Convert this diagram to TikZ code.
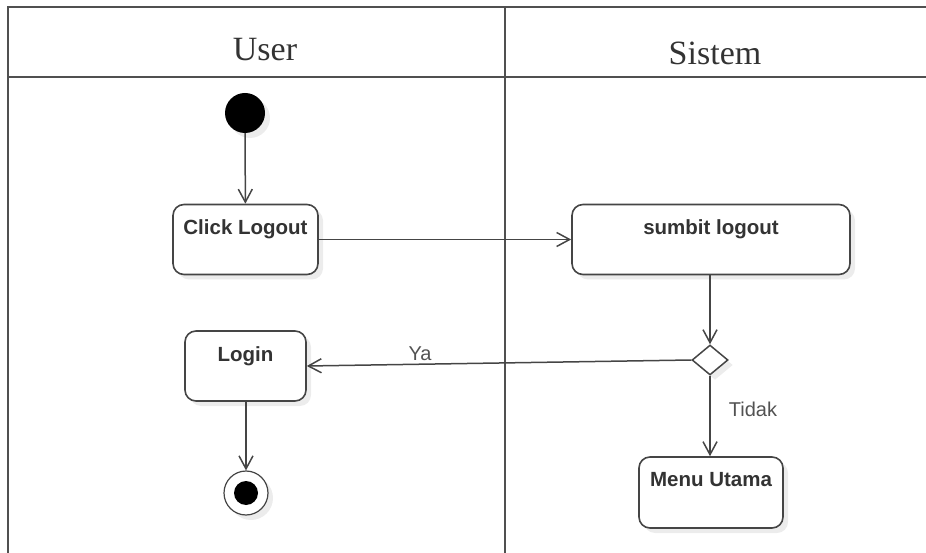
\documentclass[tikz,border=0pt]{standalone}
\usepackage{fontspec}
\setmainfont{Liberation Serif}
\newfontfamily\boxfont{Liberation Sans}
\usetikzlibrary{arrows.meta,shapes.geometric,shadows}

\definecolor{lane}{HTML}{505050}
\definecolor{edge}{HTML}{454545}
\definecolor{ink}{HTML}{333333}

\tikzset{
  softshadow/.style={drop shadow={shadow xshift=5pt, shadow yshift=-5pt, fill=black!12, opacity=0.6}},
  lanerule/.style={draw=lane, line width=2.4pt},
  lanetitle/.style={font=\fontsize{34}{40}\selectfont, text=ink},
  actbox/.style={draw=edge, line width=1.6pt, rounded corners=11pt, fill=white, softshadow, inner sep=0pt},
  acttext/.style={font=\boxfont\bfseries\fontsize{20.5}{24}\selectfont, text=ink, inner sep=0pt, anchor=north},
  flowlabel/.style={font=\boxfont\fontsize{20}{24}\selectfont, text=ink!85, inner sep=0pt},
  flow/.style={draw=edge, line width=1.5pt, -{Straight Barb[length=13pt,width=14pt,line width=1.5pt]}},
  initial/.style={circle, fill=black, minimum size=40pt, inner sep=0pt, softshadow},
  final/.style={circle, draw=edge, line width=1.2pt, fill=white, minimum size=44pt, inner sep=0pt, softshadow,
    path picture={\fill[black] (path picture bounding box.center) circle (12pt);}},
  decision/.style={diamond, draw=edge, line width=1.5pt, fill=white, minimum width=36pt, minimum height=30pt, inner sep=0pt, softshadow}
}

\begin{document}
\begin{tikzpicture}[x=1pt, y=-1pt]
  \useasboundingbox (0,0) rectangle (926,553);

  % swimlane frame
  \draw[lanerule] (926,7) -- (8,7) -- (8,553);
  \draw[lanerule] (8,77) -- (926,77);
  \draw[lanerule] (505,7) -- (505,553);
  \node[lanetitle] (userlane) at (265,50) {User};
  \node[lanetitle] (syslane) at (715,53) {Sistem};

  % User lane
  \node[initial] (start) at (245,113) {};
  \node[actbox, minimum width=145pt, minimum height=70pt] (click) at (245.5,239.5) {};
  \node[acttext] (clicktxt) at ([yshift=-16pt]click.north) {Click Logout};
  \node[actbox, minimum width=121pt, minimum height=70pt] (login) at (245.5,366) {};
  \node[acttext] (logintxt) at ([yshift=-16pt]login.north) {Login};
  \node[final] (stop) at (246,493) {};

  % Sistem lane
  \node[actbox, minimum width=278pt, minimum height=70pt] (submit) at (711,239.5) {};
  \node[acttext] (submittxt) at ([yshift=-16pt]submit.north) {sumbit logout};
  \node[decision] (check) at (710,360) {};
  \node[actbox, minimum width=144pt, minimum height=71pt] (menu) at (711,492.5) {};
  \node[acttext] (menutxt) at ([yshift=-16pt]menu.north) {Menu Utama};

  % control flow
  \draw[flow] (start) -- (click);
  \draw[flow] (click.east) -- (submit.west);
  \draw[flow] (submit.south -| check) -- (check.north);
  \draw[flow] (check.west) -- (login.east);
  \draw[flow] (login.south -| stop) -- (stop.north);
  \draw[flow] (check.south) -- (menu.north -| check);

  \node[flowlabel] (ya) at (420,354) {Ya};
  \node[flowlabel] (tidak) at (753,409) {Tidak};
\end{tikzpicture}
\end{document}
